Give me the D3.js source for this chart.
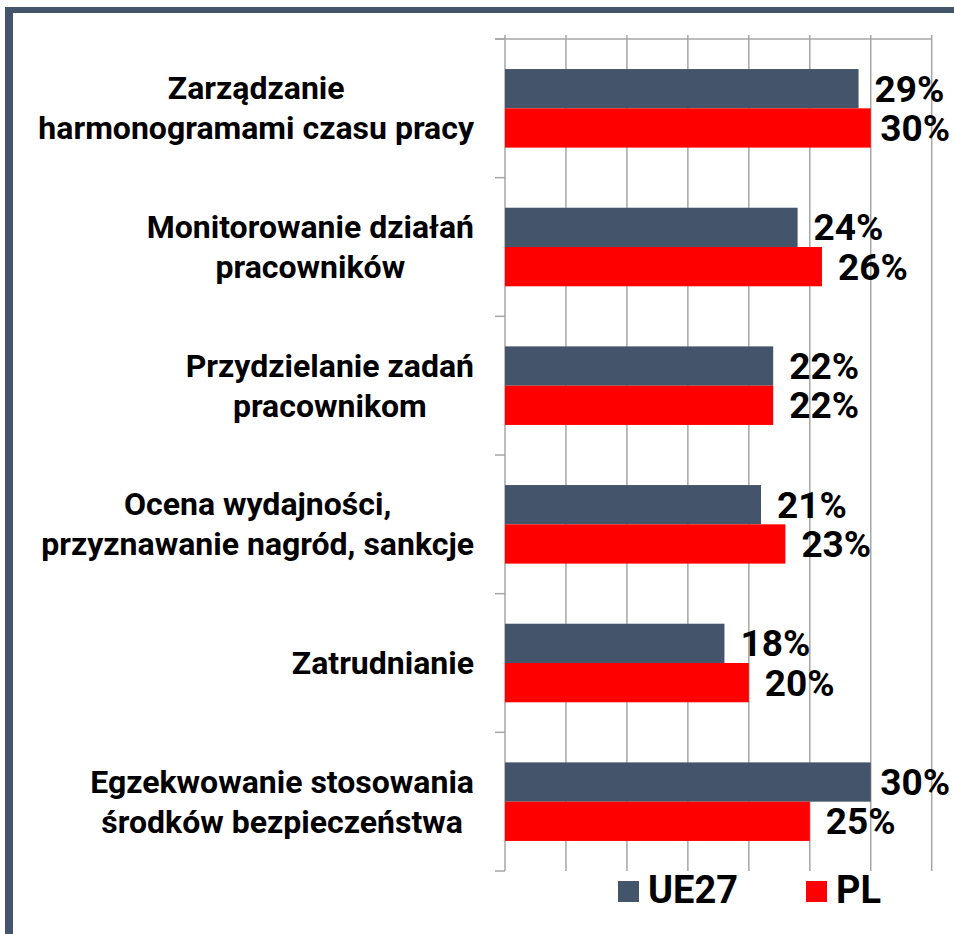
<!DOCTYPE html>
<html>
<head>
<meta charset="utf-8">
<script src="https://cdn.jsdelivr.net/npm/d3@7"></script>
<style>
  body { margin: 0; background: #fff; }
  svg { display: block; font-family: Roboto, "Noto Sans", sans-serif; font-weight: 700; }
</style>
</head>
<body>
<svg id="chart"></svg>
<script>
const categories = [
  ["Zarządzanie", "harmonogramami czasu pracy"],
  ["Monitorowanie działań", "pracowników"],
  ["Przydzielanie zadań", "pracownikom"],
  ["Ocena wydajności,", "przyznawanie nagród, sankcje"],
  ["Zatrudnianie"],
  ["Egzekwowanie stosowania", "środków bezpieczeństwa"],
];
const seriesNames = ["UE27", "PL"];
const ue27 = [29, 24, 22, 21, 18, 30];
const pl = [30, 26, 22, 23, 20, 25];
const gridTicks = [0, 5, 10, 15, 20, 25, 30, 35];

const colors = { UE27: "#44546a", PL: "#ff0000" };
const W = 954, H = 934;

const svg = d3.select("#chart").attr("width", W).attr("height", H);

// frame
svg.append("rect").attr("x", 5).attr("y", 7).attr("width", 8).attr("height", H - 7).attr("fill", "#44546a");
svg.append("rect").attr("x", 5).attr("y", 7).attr("width", W - 5).attr("height", 6).attr("fill", "#44546a");

const keys = categories.map((d, i) => i);
const x = d3.scaleLinear().domain([0, 35]).range([505, 931.7]);
const y0 = d3.scaleBand().domain(keys).range([39, 871]);
const y1 = d3.scaleBand().domain(seriesNames).range([0, y0.bandwidth()]).paddingOuter(0.765);

// gridlines
svg.append("g")
  .selectAll("line")
  .data(gridTicks)
  .join("line")
  .attr("x1", (d) => x(d)).attr("x2", (d) => x(d))
  .attr("y1", 35).attr("y2", 871)
  .attr("stroke", "#a6a6a6").attr("stroke-width", 1.5);

svg.append("line")
  .attr("x1", 495).attr("x2", x(35))
  .attr("y1", 39).attr("y2", 39)
  .attr("stroke", "#a6a6a6").attr("stroke-width", 1.5);

// category ticks
const bounds = keys.map((k) => y0(k)).concat([y0.range()[1]]);
svg.append("g")
  .selectAll("line")
  .data(bounds)
  .join("line")
  .attr("x1", 495).attr("x2", 505)
  .attr("y1", (d) => d).attr("y2", (d) => d)
  .attr("stroke", "#a6a6a6").attr("stroke-width", 1.5);

// bars
const rows = keys.map((k) => ({ k, UE27: ue27[k], PL: pl[k] }));
const groups = svg.append("g")
  .selectAll("g")
  .data(rows)
  .join("g")
  .attr("transform", (d) => `translate(0,${y0(d.k)})`);

groups.selectAll("rect")
  .data((d) => seriesNames.map((s) => ({ s, v: d[s] })))
  .join("rect")
  .attr("x", x(0))
  .attr("y", (d) => y1(d.s))
  .attr("width", (d) => x(d.v) - x(0))
  .attr("height", y1.bandwidth())
  .attr("fill", (d) => colors[d.s]);

groups.selectAll("text")
  .data((d) => seriesNames.map((s) => ({ s, v: d[s] })))
  .join("text")
  .attr("y", (d) => y1(d.s) + y1.bandwidth() / 2 + 13)
  .attr("font-size", 37)
  .attr("fill", "#000")
  .text((d) => d.v + "%")
  .attr("x", function (d) {
    const w = this.getComputedTextLength();
    return Math.min(x(d.v) + 16, 950 - w);
  });

// category labels
const labelRight = 474;
const lineGap = 40;
svg.append("g")
  .selectAll("text")
  .data(keys)
  .join("text")
  .attr("font-size", 32)
  .attr("fill", "#000")
  .attr("text-anchor", "middle")
  .each(function (k) {
    const t = d3.select(this);
    const lines = categories[k];
    const cy = y0(k) + y0.bandwidth() / 2;
    const top = cy - ((lines.length - 1) * lineGap) / 2 + 11;
    lines.forEach((ln, i) => {
      t.append("tspan").attr("y", top + i * lineGap).text(ln);
    });
    const maxW = d3.max(t.selectAll("tspan").nodes(), (n) => n.getComputedTextLength());
    t.selectAll("tspan").attr("x", labelRight - maxW / 2);
  });

// legend
const legendX = [618, 806];
const legend = svg.append("g")
  .selectAll("g")
  .data(seriesNames)
  .join("g")
  .attr("transform", (d, i) => `translate(${legendX[i]},881)`);
legend.append("rect").attr("width", 21).attr("height", 21).attr("fill", (d) => colors[d]);
legend.append("text")
  .attr("x", 30).attr("y", 22)
  .attr("font-size", 38)
  .attr("fill", "#000")
  .text((d) => d);
</script>
</body>
</html>
